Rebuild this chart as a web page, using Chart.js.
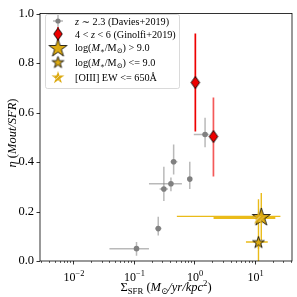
<!DOCTYPE html>
<html>
<head>
<meta charset="utf-8">
<script src="https://cdn.jsdelivr.net/npm/chart.js@4.4.1/dist/chart.umd.min.js"></script>
<style>
  body { margin: 0; background: #fff; }
  canvas { display: block; }
</style>
</head>
<body>
<canvas id="plot" width="297" height="297"></canvas>
<script>
// z~2.3 sample (Davies+2019)
const daviesX   = [0.112, 0.256, 0.317, 0.415, 0.46, 0.85, 1.52];
const daviesY   = [0.050, 0.131, 0.291, 0.312, 0.401, 0.331, 0.511];
const daviesXlo = [0.040, 0.230, 0.270, 0.180, 0.41, 0.80, 0.99];
const daviesXhi = [0.180, 0.290, 0.370, 0.630, 0.53, 0.90, 1.75];
const daviesYlo = [0.021, 0.103, 0.242, 0.282, 0.350, 0.291, 0.460];
const daviesYhi = [0.077, 0.179, 0.381, 0.337, 0.471, 0.401, 0.579];

// 4<z<6 (Ginolfi+2019)
const ginolfiX   = [1.05, 2.09];
const ginolfiY   = [0.721, 0.503];
const ginolfiYlo = [0.523, 0.341];
const ginolfiYhi = [0.919, 0.661];

// log(M*/Msun) > 9.0
const highMassX = [12.9], highMassY = [0.180];
const highMassXlo = [0.52], highMassXhi = [26.7];
const highMassYlo = [0.085], highMassYhi = [0.275];

// log(M*/Msun) <= 9.0
const lowMassX = [11.6], lowMassY = [0.077];
const lowMassXlo = [7.2], lowMassXhi = [16.5];
const lowMassYlo = [0.050], lowMassYhi = [0.100];

// [OIII] EW <= 650A
const oiiiX = [11.6], oiiiY = [0.174];
const oiiiXlo = [2.1], oiiiXhi = [22.0];
const oiiiYlo = [0.0], oiiiYhi = [0.25];

const xMajorTicks = [0.01, 0.1, 1, 10];
const xMajorLabels = [['10', '−2'], ['10', '−1'], ['10', '0'], ['10', '1']];
const xMin = 0.00285, xMax = 41.5;

// legend text, split into runs: [text, style]  (i italic, b subscript, p superscript)
const legendRuns = [
  [['z', 'i'], [' ∼ 2.3 (Davies+2019)', '']],
  [['4 < ', ''], ['z', 'i'], [' < 6 (Ginolfi+2019)', '']],
  [['log(', ''], ['M', 'i'], ['∗', 'b'], ['/M', ''], ['⊙', 'b'], [') > 9.0', '']],
  [['log(', ''], ['M', 'i'], ['∗', 'b'], ['/M', ''], ['⊙', 'b'], [') <= 9.0', '']],
  [['[OIII] EW <= 650Å', '']]
];

const SERIF = '"Liberation Serif", "DejaVu Serif", serif';
const GOLD = '#dcaa12';
const GOLD_ERR = 'rgba(232,180,0,0.9)';

function pts(xs, ys) {
  return xs.map((x, i) => ({ x: x, y: ys[i] }));
}

function starCanvas(r, hatch) {
  const s = Math.ceil(2 * r + 4);
  const c = document.createElement('canvas');
  c.width = s; c.height = s;
  const g = c.getContext('2d');
  const cx = s / 2, cy = s / 2 + r * 0.1;
  g.beginPath();
  for (let i = 0; i < 10; i++) {
    const a = -Math.PI / 2 + i * Math.PI / 5;
    const rr = i % 2 ? r * 0.382 : r;
    g.lineTo(cx + rr * Math.cos(a), cy + rr * Math.sin(a));
  }
  g.closePath();
  g.fillStyle = GOLD;
  g.fill();
  if (hatch) {
    g.save();
    g.clip();
    g.strokeStyle = 'rgba(255,255,255,0.85)';
    g.lineWidth = 0.6;
    for (let k = -s; k < 2 * s; k += 4.5) {
      g.beginPath();
      g.moveTo(k, s);
      g.lineTo(k + s, 0);
      g.stroke();
    }
    g.restore();
  }
  g.strokeStyle = '#000';
  g.lineWidth = 0.8;
  g.stroke();
  return c;
}

function diamondCanvas(hw, hh) {
  const c = document.createElement('canvas');
  c.width = Math.ceil(2 * hw + 3); c.height = Math.ceil(2 * hh + 3);
  const g = c.getContext('2d');
  const cx = c.width / 2, cy = c.height / 2;
  g.beginPath();
  g.moveTo(cx, cy - hh); g.lineTo(cx + hw, cy); g.lineTo(cx, cy + hh); g.lineTo(cx - hw, cy);
  g.closePath();
  g.fillStyle = '#ee0000';
  g.fill();
  g.strokeStyle = '#000';
  g.lineWidth = 0.9;
  g.stroke();
  return c;
}

const bigStar = starCanvas(9.5, false);
const smallStar = starCanvas(6.2, false);
const hatchStar = starCanvas(6.8, true);
const diamond = diamondCanvas(4.3, 6);

// draw text made of runs
function runFont(style, size) {
  const sz = (style === 'b' || style === 'p') ? size * 0.7 : size;
  return (style === 'i' ? 'italic ' : '') + sz + 'px ' + SERIF;
}
function runsWidth(ctx, runs, size) {
  let w = 0;
  runs.forEach(r => { ctx.font = runFont(r[1], size); w += ctx.measureText(r[0]).width; });
  return w;
}
function drawRuns(ctx, runs, x, y, size) {
  ctx.textBaseline = 'alphabetic';
  ctx.textAlign = 'left';
  runs.forEach(r => {
    ctx.font = runFont(r[1], size);
    let dy = 0;
    if (r[1] === 'b') dy = size * 0.22;
    if (r[1] === 'p') dy = -size * 0.42;
    ctx.fillText(r[0], x, y + dy);
    x += ctx.measureText(r[0]).width;
  });
}

const errorBars = {
  id: 'errorBars',
  beforeDatasetsDraw(chart) {
    const ctx = chart.ctx, xs = chart.scales.x, ys = chart.scales.y, a = chart.chartArea;
    ctx.save();
    ctx.beginPath();
    ctx.rect(a.left, a.top, a.right - a.left, a.bottom - a.top);
    ctx.clip();
    chart.data.datasets.forEach(ds => {
      const e = ds.err;
      if (!e) return;
      ds.data.forEach((p, i) => {
        const px = xs.getPixelForValue(p.x), py = ys.getPixelForValue(p.y);
        ctx.strokeStyle = Array.isArray(e.color) ? e.color[i] : e.color;
        if (e.xlo) {
          ctx.lineWidth = e.xw || e.w;
          ctx.beginPath();
          ctx.moveTo(xs.getPixelForValue(e.xlo[i]), py);
          ctx.lineTo(xs.getPixelForValue(e.xhi[i]), py);
          ctx.stroke();
        }
        if (e.ylo) {
          ctx.lineWidth = e.w;
          ctx.beginPath();
          ctx.moveTo(px, ys.getPixelForValue(e.ylo[i]));
          ctx.lineTo(px, ys.getPixelForValue(e.yhi[i]));
          ctx.stroke();
        }
      });
    });
    ctx.restore();
  }
};

const decorations = {
  id: 'decorations',
  afterDraw(chart) {
    const ctx = chart.ctx, xs = chart.scales.x, ys = chart.scales.y, a = chart.chartArea;
    ctx.save();
    ctx.fillStyle = '#000';
    ctx.strokeStyle = '#000';

    // frame
    ctx.lineWidth = 0.8;
    ctx.strokeRect(a.left, a.top, a.right - a.left, a.bottom - a.top);

    // y ticks
    ys.ticks.forEach(t => {
      const py = Math.round(ys.getPixelForValue(t.value)) + 0.5;
      ctx.beginPath(); ctx.moveTo(a.left, py); ctx.lineTo(a.left - 3.5, py); ctx.stroke();
    });

    // x ticks: majors and minors
    ctx.lineWidth = 0.8;
    xMajorTicks.forEach(v => {
      const px = Math.round(xs.getPixelForValue(v)) + 0.5;
      ctx.beginPath(); ctx.moveTo(px, a.bottom); ctx.lineTo(px, a.bottom + 3.5); ctx.stroke();
    });
    ctx.lineWidth = 0.6;
    for (let d = 0.001; d < 100; d *= 10) {
      for (let k = 2; k < 10; k++) {
        const v = d * k;
        if (v < xMin || v > xMax) continue;
        const px = Math.round(xs.getPixelForValue(v)) + 0.5;
        ctx.beginPath(); ctx.moveTo(px, a.bottom); ctx.lineTo(px, a.bottom + 2); ctx.stroke();
      }
    }

    // x tick labels
    xMajorTicks.forEach((v, i) => {
      const runs = [[xMajorLabels[i][0], ''], [xMajorLabels[i][1], 'p']];
      const w = runsWidth(ctx, runs, 12);
      drawRuns(ctx, runs, xs.getPixelForValue(v) - w / 2 + 1, 281, 12);
    });

    // x title
    const xtRuns = [['Σ', ''], ['SFR', 'b'], [' (', ''], ['M', 'i'], ['⊙', 'b'], ['/yr/kpc', 'i'], ['2', 'p'], [')', '']];
    const xw = runsWidth(ctx, xtRuns, 12.5);
    drawRuns(ctx, xtRuns, 166 - xw / 2, 291, 12.5);

    // y title
    const yt = [['η', 'i'], [' (', ''], ['Mout/SFR', 'i'], [')', '']];
    ctx.save();
    ctx.translate(16, 133);
    ctx.rotate(-Math.PI / 2);
    const yw = runsWidth(ctx, yt, 12.5);
    drawRuns(ctx, yt, -yw / 2, 0, 12.5);
    ctx.restore();

    // legend
    const lx = 45, ly = 14, lw = 134, lh = 74;
    ctx.fillStyle = 'rgba(255,255,255,0.85)';
    ctx.strokeStyle = '#d0d0d0';
    ctx.lineWidth = 0.8;
    ctx.beginPath();
    ctx.roundRect(lx + 0.5, ly + 0.5, lw, lh, 2);
    ctx.fill();
    ctx.stroke();

    const rowY = [21, 34, 47.5, 62, 77];
    const mx = 58;
    // row 1: gray point with error cross
    ctx.strokeStyle = 'rgba(128,128,128,0.55)';
    ctx.lineWidth = 1.5;
    ctx.beginPath();
    ctx.moveTo(mx - 5, rowY[0]); ctx.lineTo(mx + 5, rowY[0]);
    ctx.moveTo(mx, rowY[0] - 6); ctx.lineTo(mx, rowY[0] + 6);
    ctx.stroke();
    ctx.fillStyle = '#808080';
    ctx.beginPath(); ctx.arc(mx, rowY[0], 2.6, 0, 2 * Math.PI); ctx.fill();
    // row 2: red diamond with error line
    ctx.strokeStyle = '#ee0000';
    ctx.beginPath(); ctx.moveTo(mx, rowY[1] - 7); ctx.lineTo(mx, rowY[1] + 7); ctx.stroke();
    ctx.drawImage(diamond, mx - diamond.width / 2, rowY[1] - diamond.height / 2);
    // stars
    ctx.drawImage(bigStar, mx - bigStar.width / 2, rowY[2] - bigStar.height / 2);
    ctx.drawImage(smallStar, mx - smallStar.width / 2, rowY[3] - smallStar.height / 2);
    ctx.drawImage(hatchStar, mx - hatchStar.width / 2, rowY[4] - hatchStar.height / 2);

    ctx.fillStyle = '#000';
    legendRuns.forEach((runs, i) => drawRuns(ctx, runs, 75, rowY[i] + 3.5, 10.2));

    ctx.restore();
  }
};

new Chart(document.getElementById('plot'), {
  type: 'scatter',
  data: {
    datasets: [
      {
        label: 'z ~ 2.3 (Davies+2019)',
        data: pts(daviesX, daviesY),
        pointStyle: 'circle', pointRadius: 2.8, backgroundColor: '#808080', borderWidth: 0,
        err: { xlo: daviesXlo, xhi: daviesXhi, ylo: daviesYlo, yhi: daviesYhi, color: 'rgba(128,128,128,0.55)', w: 1.5 }
      },
      {
        label: '4 < z < 6 (Ginolfi+2019)',
        data: pts(ginolfiX, ginolfiY),
        pointStyle: diamond,
        err: { ylo: ginolfiYlo, yhi: ginolfiYhi, color: ['#ee0000', 'rgba(238,0,0,0.65)'], w: 1.7 }
      },
      {
        label: '[OIII] EW <= 650Å',
        data: pts(oiiiX, oiiiY),
        pointStyle: hatchStar,
        err: { xlo: oiiiXlo, xhi: oiiiXhi, ylo: oiiiYlo, yhi: oiiiYhi, color: GOLD_ERR, w: 1.4, xw: 2 }
      },
      {
        label: 'log(M*/Msun) > 9.0',
        data: pts(highMassX, highMassY),
        pointStyle: bigStar,
        err: { xlo: highMassXlo, xhi: highMassXhi, ylo: highMassYlo, yhi: highMassYhi, color: GOLD_ERR, w: 1.4, xw: 1.3 }
      },
      {
        label: 'log(M*/Msun) <= 9.0',
        data: pts(lowMassX, lowMassY),
        pointStyle: smallStar,
        err: { xlo: lowMassXlo, xhi: lowMassXhi, ylo: lowMassYlo, yhi: lowMassYhi, color: GOLD_ERR, w: 1.4, xw: 1.6 }
      }
    ]
  },
  options: {
    responsive: false,
    animation: false,
    events: [],
    layout: { padding: { top: 9, right: 5, left: 0, bottom: 0 } },
    plugins: { legend: { display: false }, tooltip: { enabled: false } },
    scales: {
      x: {
        type: 'logarithmic', min: xMin, max: xMax,
        ticks: { display: false },
        grid: { display: false, drawTicks: false },
        border: { display: false },
        afterFit(s) { s.height = 36; }
      },
      y: {
        min: 0, max: 1,
        ticks: {
          stepSize: 0.2, padding: 6, color: '#000',
          font: { family: SERIF, size: 12.5 },
          callback: v => v.toFixed(1)
        },
        grid: { display: false, drawTicks: false },
        border: { display: false },
        afterFit(s) { s.width = 40; }
      }
    }
  },
  plugins: [errorBars, decorations]
});
</script>
</body>
</html>
